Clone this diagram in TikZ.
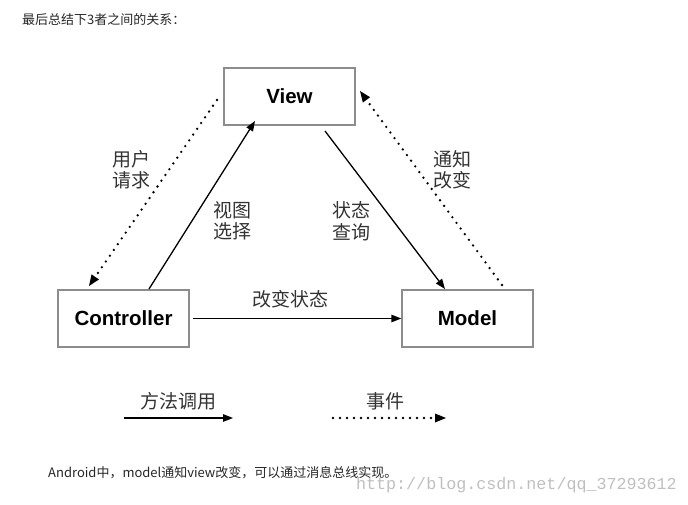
\documentclass[tikz,border=0pt]{standalone}
\usepackage{fontspec}
\setmainfont{Liberation Sans}
\newfontfamily\cjk{Noto Sans CJK SC}
\newfontfamily\wmfont{Liberation Mono}
\usetikzlibrary{arrows.meta}
\begin{document}
\begin{tikzpicture}[x=1pt,y=-1pt,
  box/.style={draw=black!45,line width=1.3pt,minimum width=131pt,minimum height=57pt,inner sep=0pt,font=\fontsize{20.5}{22}\selectfont\bfseries},
  lbl/.style={font=\cjk\fontsize{19}{21.5}\selectfont,text=black!80,align=center,inner sep=0pt},
  solidarrow/.style={line width=1.3pt,-{Triangle[length=10pt,width=7.5pt]}},
  dotarrow/.style={line width=2.6pt,line cap=round,dash pattern=on 0pt off 7pt,-{Triangle[length=11pt,width=9pt,line cap=butt,line width=0pt]}},
  note/.style={font=\cjk\fontsize{13}{15}\selectfont,text=black!85,anchor=west,inner sep=0pt}]
\useasboundingbox (0,0) rectangle (688,505);
\node[box] (view) at (289.5,96.5) {View};
\node[box] (ctrl) at (123.5,318.5) {Controller};
\node[box] (model) at (467.5,318.5) {Model};
% arrows
\coordinate (c1) at (149,289);
\coordinate (v1) at (255,121);
\draw[solidarrow] (c1) -- (v1);
\coordinate (v2) at (325,131);
\coordinate (m1) at (445,289);
\draw[solidarrow] (v2) -- (m1);
\coordinate (v3) at (217,100);
\coordinate (c2) at (89,286);
\draw[dotarrow] (v3) -- (c2);
\coordinate (m2) at (502,285);
\coordinate (v4) at (360,91);
\draw[dotarrow] (m2) -- (v4);
\draw[solidarrow] (ctrl.east) ++(3,0) coordinate (c3) (c3) -- (model.west);
% labels
\node[lbl] (l1) at (131,170) {用户\\请求};
\node[lbl] (l2) at (232,221) {视图\\选择};
\node[lbl] (l3) at (351,221) {状态\\查询};
\node[lbl] (l4) at (452,170) {通知\\改变};
\node[lbl] (l5) at (290,299) {改变状态};
% legend
\node[lbl] (lg1) at (178,401) {方法调用};
\coordinate (a1) at (124,418);
\coordinate (a2) at (233,418);
\draw[solidarrow] (a1) -- (a2);
\node[lbl] (lg2) at (385,401) {事件};
\coordinate (b1) at (333,418);
\coordinate (b2) at (446,418);
\draw[dotarrow] (b1) -- (b2);
% texts
\node[note] (top) at (22,20) {最后总结下3者之间的关系：};
\node[note] (bot) at (48,473) {Android中，model通知view改变，可以通过消息总线实现。};
\node[font=\wmfont\fontsize{16.7}{20}\selectfont,text=black!25,anchor=east,inner sep=0pt] (wm) at (677,485) {http://blog.csdn.net/qq\_37293612};
\end{tikzpicture}
\end{document}
